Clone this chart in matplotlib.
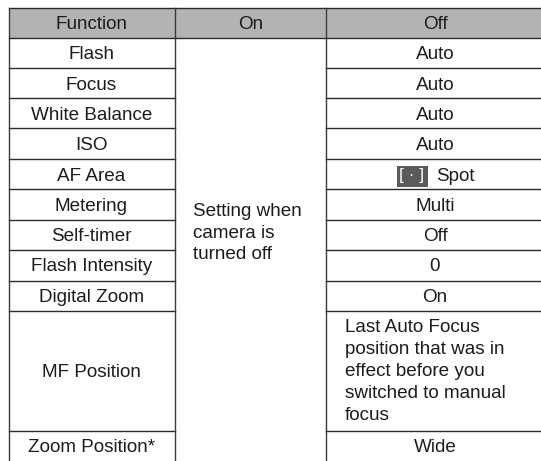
import matplotlib
matplotlib.use("Agg")
import matplotlib.pyplot as plt
from matplotlib.patches import Rectangle

plt.rcParams['font.family'] = ['Liberation Sans', 'DejaVu Sans']

headers = ["Function", "On", "Off"]
functions = ["Flash", "Focus", "White Balance", "ISO", "AF Area", "Metering", "Self-timer",
             "Flash Intensity", "Digital Zoom", "MF Position", "Zoom Position*"]
off_values = ["Auto", "Auto", "Auto", "Auto", "Spot", "Multi", "Off", "0", "On",
              "Last Auto Focus\nposition that was in\neffect before you\nswitched to manual\nfocus", "Wide"]
on_text = "Setting when\ncamera is\nturned off"

W, H = 541, 461
col_edges = [8.5, 175, 326, 544]  # last one runs off the page
row_edges = [8, 38, 68.5, 98.5, 128.5, 159.5, 189.5, 219.5, 250, 280.5, 310.5, 431, 461]
FS = 13.6
INK = "#1c1c1c"
LW = 1.0

fig = plt.figure(figsize=(W / 100, H / 100), dpi=100)
ax = fig.add_axes([0, 0, 1, 1])
ax.set_xlim(0, W)
ax.set_ylim(H, 0)
ax.axis("off")

# header band
ax.add_patch(Rectangle((col_edges[0], row_edges[0]), col_edges[3] - col_edges[0],
                       row_edges[1] - row_edges[0], facecolor="#b3b3b3", edgecolor="none"))

# grid, the On column is one big merged cell
for i, y in enumerate(row_edges[:-1]):
    if i < 2:
        ax.plot([col_edges[0], col_edges[3]], [y, y], color="#2a2a2a", lw=LW)
    else:
        ax.plot([col_edges[0], col_edges[1]], [y, y], color="#2a2a2a", lw=LW)
        ax.plot([col_edges[2], col_edges[3]], [y, y], color="#2a2a2a", lw=LW)
for x in col_edges[:3]:
    ax.plot([x, x], [row_edges[0], row_edges[-1]], color="#3a3a3a", lw=LW)

for i, h in enumerate(headers):
    ax.text((col_edges[i] + col_edges[i + 1]) / 2, 22.5, h, ha="center", va="center_baseline",
            fontsize=FS, color=INK)

for i, name in enumerate(functions):
    y = (row_edges[i + 1] + row_edges[i + 2]) / 2 - 0.5
    ax.text((col_edges[0] + col_edges[1]) / 2 - 0.5, y, name, ha="center", va="center_baseline",
            fontsize=FS, color=INK)

for i, val in enumerate(off_values):
    y = (row_edges[i + 1] + row_edges[i + 2]) / 2 - 0.5
    xmid = (col_edges[2] + col_edges[3]) / 2
    if "\n" in val:
        ax.text(345, y + 1, val, ha="left", va="center", fontsize=FS, color=INK, linespacing=1.38)
    elif val == "Spot":
        # spot metering icon
        ax.add_patch(Rectangle((397, 166), 31, 21, facecolor="#5a5a5a", edgecolor="none"))
        ax.text(412, 175.5, "[ \u00b7 ]", ha="center", va="center", fontsize=12.5, color="white")
        ax.text(436, y, val, ha="left", va="center_baseline", fontsize=FS, color=INK)
    else:
        ax.text(xmid, y, val, ha="center", va="center_baseline", fontsize=FS, color=INK)

ax.text(193, 233, on_text, ha="left", va="center", fontsize=FS, color=INK, linespacing=1.38)

fig.savefig("out.png", dpi=100)
plt.close()
